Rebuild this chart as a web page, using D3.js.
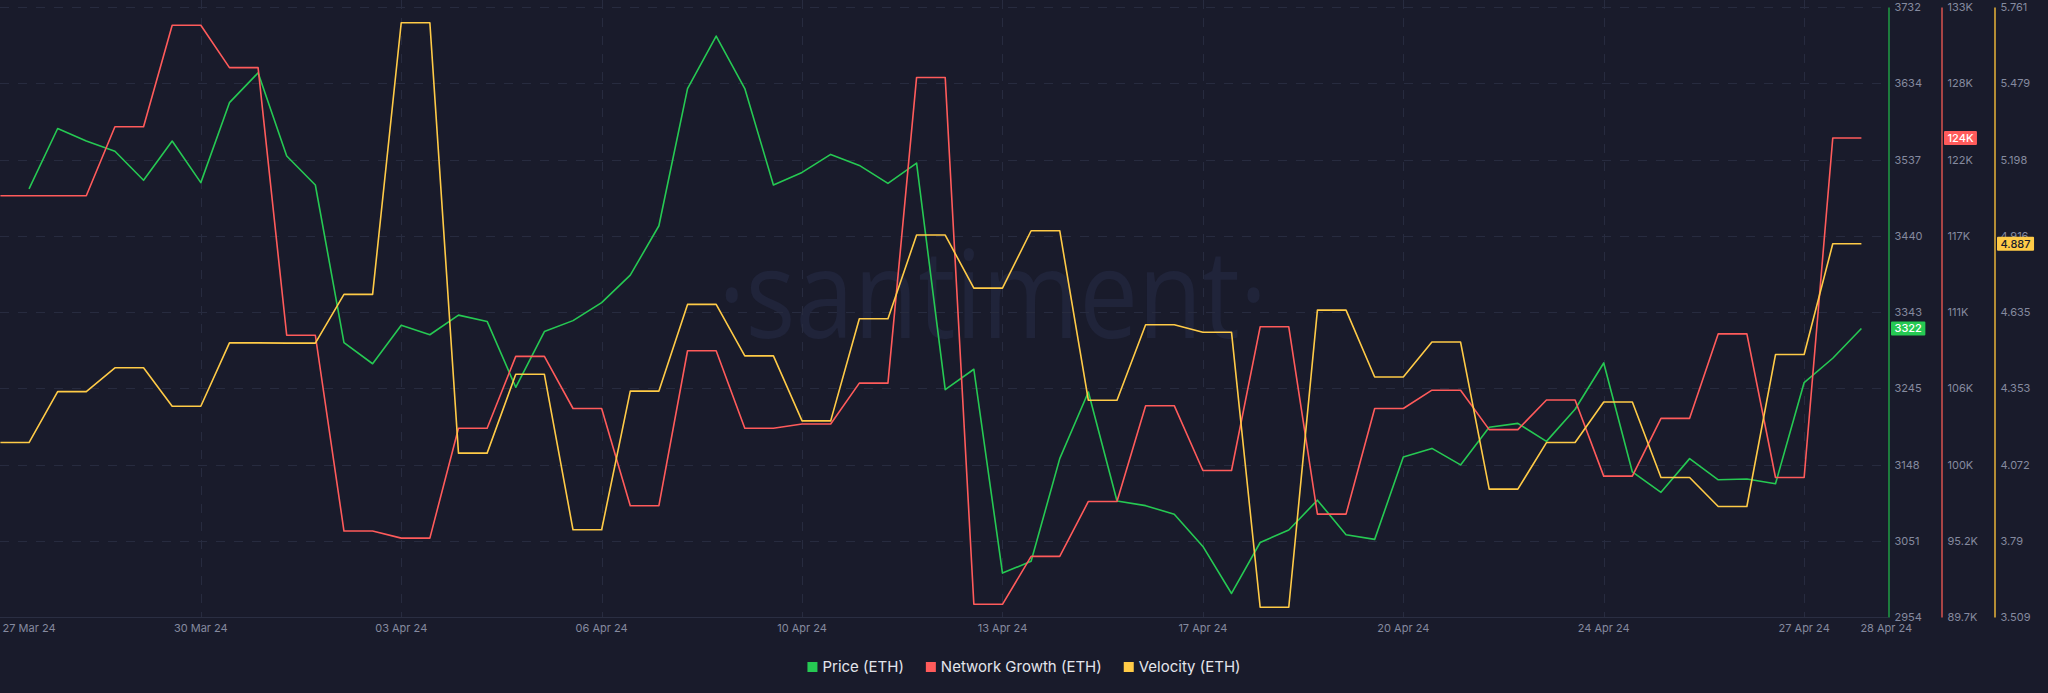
<!DOCTYPE html>
<html><head><meta charset="utf-8">
<script src="https://cdn.jsdelivr.net/npm/d3@7/dist/d3.min.js"></script>
<style>
body{margin:0;background:#191b2b;}
svg{display:block;}
text{font-family:Inter,"Noto Sans",sans-serif;}
</style>
</head><body>
<svg id="chart" width="2048" height="693"></svg>
<script>
// ---------- DATA ----------
const startTime = "2024-03-26T12:00:00Z"; // 12-hourly points
const price = [null,3500,3577,3561,3548,3511,3561,3508,3610,3648,3542,3505,3304,3277,3326,3314,3339,3331,3247,3318,3332,3355,3390,3453,3628,3695,3628,3505,3521,3544,3530,3507,3533,3244,3270,3010,3025,3156,3241,3102,3096,3085,3044,2984,3049,3065,3103,3059,3053,3158,3169,3148,3196,3201,3178,3219,3278,3139,3113,3156,3129,3130,3124,3253,3284,3322];
const networkGrowth = [119600,119600,119600,119600,124500,124500,131700,131700,128700,128700,109700,109700,95800,95800,95300,95300,103100,103100,108200,108200,104500,104500,97600,97600,108600,108600,103100,103100,103400,103400,106300,106300,128000,128000,90600,90600,94000,94000,97900,97900,104700,104700,100100,100100,110300,110300,97000,97000,104500,104500,105800,105800,103000,103000,105100,105100,99700,99700,103800,103800,109800,109800,99600,99600,123700,123700];
const velocity = [4.153,4.153,4.341,4.341,4.429,4.429,4.287,4.287,4.521,4.521,4.520,4.520,4.700,4.700,5.703,5.703,4.114,4.114,4.405,4.405,3.831,3.831,4.343,4.343,4.663,4.663,4.473,4.473,4.233,4.233,4.610,4.610,4.919,4.919,4.723,4.723,4.935,4.935,4.309,4.309,4.588,4.588,4.560,4.560,3.545,3.545,4.642,4.642,4.395,4.395,4.524,4.524,3.981,3.981,4.153,4.153,4.303,4.303,4.024,4.024,3.917,3.917,4.478,4.478,4.887,4.887];

const xTickDates = ["2024-03-27T00:00:00Z","2024-03-30T00:00:00Z","2024-04-02T12:00:00Z","2024-04-06T00:00:00Z","2024-04-09T12:00:00Z","2024-04-13T00:00:00Z","2024-04-16T12:00:00Z","2024-04-20T00:00:00Z","2024-04-23T12:00:00Z","2024-04-27T00:00:00Z","2024-04-28T00:00:00Z"];
const xTickLabels = ["27 Mar 24","30 Mar 24","03 Apr 24","06 Apr 24","10 Apr 24","13 Apr 24","17 Apr 24","20 Apr 24","24 Apr 24","27 Apr 24","28 Apr 24"];

const priceDomain = [2954, 3732];
const ngDomain = [89700, 133000];
const velDomain = [3.509, 5.761];
const priceTickLabels = ["2954","3051","3148","3245","3343","3440","3537","3634","3732"];
const ngTickLabels = ["89.7K","95.2K","100K","106K","111K","117K","122K","128K","133K"];
const velTickLabels = ["3.509","3.79","4.072","4.353","4.635","4.916","5.198","5.479","5.761"];

const seriesNames = ["Price (ETH)","Network Growth (ETH)","Velocity (ETH)"];
const seriesColors = ["#26c953","#ff5b5b","#ffcb47"];

(function(){
// ---------- LAYOUT ----------
const W = 2048, H = 693;
const plotRight = 1888, plotTop = 7, plotBottom = 617;
const axisX = [1888.5, 1941.5, 1994.5];
const bg = "#191b2b";
const gridColor = "#272b3f";
const tickColor = "#858a9f";

const svg = d3.select("#chart");
svg.append("rect").attr("width", W).attr("height", H).attr("fill", bg);

const dates = price.map((_, i) => d3.utcHour.offset(new Date(startTime), 12 * i));
const x = d3.scaleUtc().domain([dates[0], dates[dates.length - 1]]).range([0.4, 1861.4]);
const yP = d3.scaleLinear().domain(priceDomain).range([plotBottom, plotTop]);
const yN = d3.scaleLinear().domain(ngDomain).range([plotBottom, plotTop]);
const yV = d3.scaleLinear().domain(velDomain).range([plotBottom, plotTop]);

// watermark
svg.append("text")
  .attr("transform", "translate(718,338) scale(0.86,1)")
  .style("font-family", "'Open Sans'")
  .attr("font-size", 122)
  .attr("fill", "#20243a")
  .text("·santiment·");

// grid
const tickIdx = d3.range(9);
const tickVals = (dom) => tickIdx.map(k => dom[0] + k * (dom[1] - dom[0]) / 8);
const g = svg.append("g");
g.selectAll("line.h").data(tickVals(priceDomain)).join("line")
  .attr("x1", 0).attr("x2", plotRight)
  .attr("y1", d => Math.round(yP(d)) + 0.5).attr("y2", d => Math.round(yP(d)) + 0.5)
  .attr("stroke", gridColor).attr("stroke-dasharray", "9,9");
const xTicks = xTickDates.map(d => new Date(d));
g.selectAll("line.v").data(xTicks.slice(1, -1)).join("line")
  .attr("x1", d => Math.round(x(d)) + 0.5).attr("x2", d => Math.round(x(d)) + 0.5)
  .attr("y1", 0).attr("y2", plotBottom)
  .attr("stroke", gridColor).attr("stroke-dasharray", "9,9");
svg.append("line").attr("x1", 0).attr("x2", plotRight).attr("y1", plotBottom + 0.5).attr("y2", plotBottom + 0.5)
  .attr("stroke", "#2a2e42");

// x labels
svg.append("g").selectAll("text").data(xTicks).join("text")
  .attr("x", (d, i) => i === xTicks.length - 1 ? x(d) - 1 : x(d))
  .attr("y", 628)
  .attr("dy", "0.35em")
  .attr("text-anchor", (d, i) => i === xTicks.length - 1 ? "start" : "middle")
  .attr("font-size", 11).attr("fill", tickColor)
  .text((d, i) => xTickLabels[i]);

// right axes
const axes = [
  {scale: yP, dom: priceDomain, labels: priceTickLabels, color: "#1f9e45"},
  {scale: yN, dom: ngDomain, labels: ngTickLabels, color: "#d9534f"},
  {scale: yV, dom: velDomain, labels: velTickLabels, color: "#e8b53a"}
];
axes.forEach((a, j) => {
  const ax = d3.axisRight(a.scale)
    .tickValues(tickVals(a.dom))
    .tickFormat((d, i) => a.labels[i])
    .tickSize(0).tickSizeOuter(0).tickPadding(6);
  const ag = svg.append("g").attr("transform", `translate(${axisX[j]},0)`).call(ax);
  ag.select(".domain").attr("stroke", a.color).attr("stroke-width", 1.5);
  ag.selectAll("text").attr("fill", tickColor).attr("font-size", 11)
    .attr("font-family", "Inter,'Noto Sans',sans-serif");
});

// lines
const series = [
  {data: price, y: yP},
  {data: networkGrowth, y: yN},
  {data: velocity, y: yV}
];
series.forEach((s, j) => {
  const line = d3.line()
    .defined(d => d != null)
    .x((d, i) => x(dates[i]))
    .y(d => s.y(d));
  svg.append("path").datum(s.data)
    .attr("fill", "none").attr("stroke", seriesColors[j])
    .attr("stroke-width", 1.6).attr("stroke-linejoin", "round")
    .attr("d", line);
});

// last-value badges
const badgeFmt = [d => d3.format(".0f")(d), d => d3.format(".3s")(d).toUpperCase(), d => d3.format(".3f")(d)];
const badgeText = ["#ffffff", "#ffffff", "#191b2b"];
series.forEach((s, j) => {
  const v = s.data[s.data.length - 1];
  const cy = s.y(v);
  const bgG = svg.append("g");
  const r = bgG.append("rect");
  const t = bgG.append("text")
    .attr("x", axisX[j] + 6).attr("y", cy).attr("dy", "0.36em")
    .attr("font-size", 11).attr("fill", badgeText[j]).attr("font-weight", 500)
    .text(badgeFmt[j](v));
  const w = t.node().getComputedTextLength();
  r.attr("x", axisX[j] + 2.5).attr("y", cy - 7).attr("width", w + 7).attr("height", 14)
    .attr("rx", 1).attr("fill", seriesColors[j]);
});

// legend
const leg = svg.append("g");
let cx = 0;
seriesNames.forEach((n, j) => {
  const it = leg.append("g");
  it.append("rect").attr("x", 0).attr("y", -5).attr("width", 10).attr("height", 10).attr("fill", seriesColors[j]);
  const t = it.append("text").attr("x", 15).attr("y", 0).attr("dy", "0.35em")
    .attr("font-size", 15).attr("fill", "#e3e5ec").text(n);
  const w = 15 + t.node().getComputedTextLength();
  it.attr("transform", `translate(${cx},0)`);
  cx += w + 22;
});
const legW = cx - 22;
leg.attr("transform", `translate(${1024 - legW / 2},667)`);
})();
</script>
</body></html>
